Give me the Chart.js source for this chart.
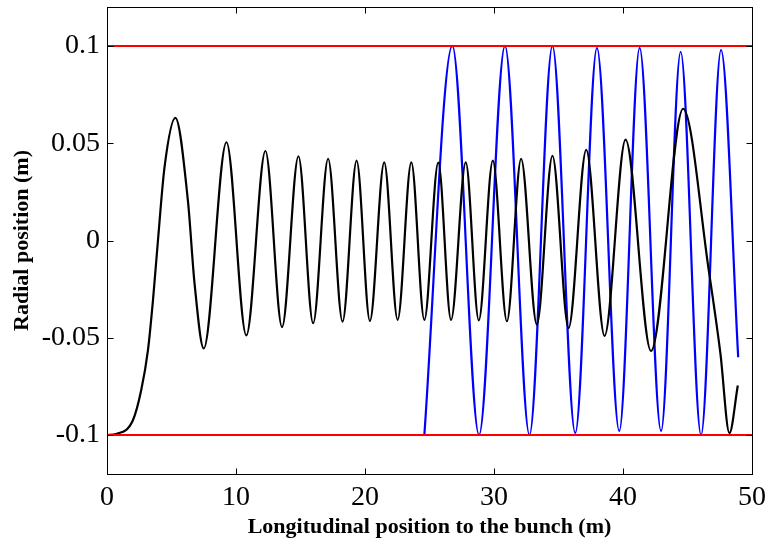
<!DOCTYPE html>
<html>
<head>
<meta charset="utf-8">
<script src="https://cdn.jsdelivr.net/npm/chart.js@4"></script>
<style>
  body { margin: 0; background: #fff; }
</style>
</head>
<body>
<canvas id="chart" width="768" height="538"></canvas>
<script>
// values
const blackX = [0, 0.71, 2.0, 2.65, 3.17, 3.56, 3.95, 4.46, 5.3, 6.27, 6.79, 7.5, 9.26, 10.8, 12.28, 13.57, 14.84, 15.98,
  17.14, 18.26, 19.35, 20.38, 21.49, 22.53, 23.59, 24.6, 25.68, 26.67, 27.81, 28.82, 29.91, 31.0, 32.1, 33.32,
  34.53, 35.78, 37.15, 38.57, 40.2, 42.17, 44.66, 46.65, 47.55, 48.25, 48.9];
const blackY = [-0.1, -0.0994, -0.0925, -0.077, -0.0566, -0.031, 0, 0.0377, 0.063, 0.0206, -0.0223, -0.0555, 0.0505, -0.0488,
  0.046, -0.0445, 0.0433, -0.0425, 0.042, -0.0417, 0.041, -0.0413, 0.0402, -0.0408, 0.0402, -0.0408, 0.04, -0.0408,
  0.0402, -0.041, 0.041, -0.0415, 0.042, -0.0432, 0.0435, -0.045, 0.0466, -0.049, 0.0518, -0.0568, 0.0677,
  -0.0154, -0.058, -0.099, -0.0745];

const blueX = [24.6, 26.77, 28.84, 30.85, 32.75, 34.53, 36.3, 37.98, 39.71, 41.29, 42.95, 44.47, 46.05, 47.6, 48.93];
const blueY = [-0.1, 0.1, -0.1, 0.1, -0.1, 0.1, -0.099, 0.099, -0.098, 0.099, -0.098, 0.097, -0.1, 0.098, -0.06];

const limitX = [0, 50];
const upperY = [0.1, 0.1];
const lowerY = [-0.1, -0.1];

const xTicks = [0, 10, 20, 30, 40, 50];
const xTickLabels = ['0', '10', '20', '30', '40', '50'];
const yTicks = [-0.1, -0.05, 0, 0.05, 0.1];
const yTickLabels = ['-0.1', '-0.05', '0', '0.05', '0.1'];

const xTitle = 'Longitudinal position to the bunch (m)';
const yTitle = 'Radial position (m)';

const toPoints = (xs, ys) => xs.map((x, i) => ({x: x, y: ys[i]}));

const serif = 'Liberation Serif';

// no extra room for edge labels, the layout padding handles it
const noPad = s => { s.paddingTop = 0; s.paddingBottom = 0; s.paddingLeft = 0; s.paddingRight = 0; };

// box around the plot, with ticks pointing inward on all four sides
const frame = {
  id: 'frame',
  afterDraw(chart) {
    const {ctx, chartArea: a, scales: {x, y}} = chart;
    const L = Math.round(a.left) + 0.5, R = Math.round(a.right) + 0.5;
    const T = Math.round(a.top) + 0.5, B = Math.round(a.bottom) + 0.5;
    const len = 6;
    ctx.save();
    ctx.strokeStyle = '#000';
    ctx.lineWidth = 1;
    ctx.strokeRect(L, T, R - L, B - T);
    ctx.beginPath();
    xTicks.forEach(v => {
      const px = Math.round(x.getPixelForValue(v)) + 0.5;
      ctx.moveTo(px, B); ctx.lineTo(px, B - len);
      ctx.moveTo(px, T); ctx.lineTo(px, T + len);
    });
    yTicks.forEach(v => {
      const py = Math.round(y.getPixelForValue(v)) + 0.5;
      ctx.moveTo(L, py); ctx.lineTo(L + len, py);
      ctx.moveTo(R, py); ctx.lineTo(R - len, py);
    });
    ctx.stroke();
    ctx.restore();
  }
};

const ctx = document.getElementById('chart').getContext('2d');

new Chart(ctx, {
  type: 'line',
  data: {
    datasets: [
      {data: toPoints(limitX, upperY), borderColor: '#ff0000', borderWidth: 2, pointRadius: 0},
      {data: toPoints(limitX, lowerY), borderColor: '#ff0000', borderWidth: 2, pointRadius: 0},
      {data: toPoints(blackX, blackY), borderColor: '#000000', borderWidth: 2.2, pointRadius: 0, cubicInterpolationMode: 'monotone'},
      {data: toPoints(blueX, blueY), borderColor: '#0000ff', borderWidth: 2.2, pointRadius: 0, cubicInterpolationMode: 'monotone'}
    ]
  },
  options: {
    responsive: false,
    devicePixelRatio: 1,
    animation: false,
    layout: {padding: {top: 7, right: 16, left: 0, bottom: 0}},
    plugins: {
      legend: {display: false},
      tooltip: {enabled: false}
    },
    scales: {
      x: {
        type: 'linear',
        min: 0,
        max: 50,
        afterBuildTicks: s => { s.ticks = xTicks.map(v => ({value: v})); },
        afterFit: s => { s.height = 64; noPad(s); },
        grid: {display: false, drawTicks: false},
        border: {display: false},
        ticks: {
          color: '#000',
          font: {family: serif, size: 28},
          padding: 7,
          maxRotation: 0,
          autoSkip: false,
          callback: (v, i) => xTickLabels[i]
        },
        title: {
          display: true,
          text: xTitle,
          color: '#000',
          font: {family: serif, size: 22, weight: 'bold', lineHeight: 1},
          padding: {top: 0, bottom: 0}
        }
      },
      y: {
        min: -0.12,
        max: 0.12,
        afterBuildTicks: s => { s.ticks = yTicks.map(v => ({value: v})); },
        afterFit: s => { s.width = 107; noPad(s); },
        grid: {display: false, drawTicks: false},
        border: {display: false},
        ticks: {
          color: '#000',
          font: {family: serif, size: 28},
          padding: 7,
          autoSkip: false,
          callback: (v, i) => yTickLabels[i]
        },
        title: {
          display: true,
          text: yTitle,
          color: '#000',
          font: {family: serif, size: 22, weight: 'bold', lineHeight: 1},
          padding: {top: 11, bottom: 0}
        }
      }
    }
  },
  plugins: [frame]
});
</script>
</body>
</html>
